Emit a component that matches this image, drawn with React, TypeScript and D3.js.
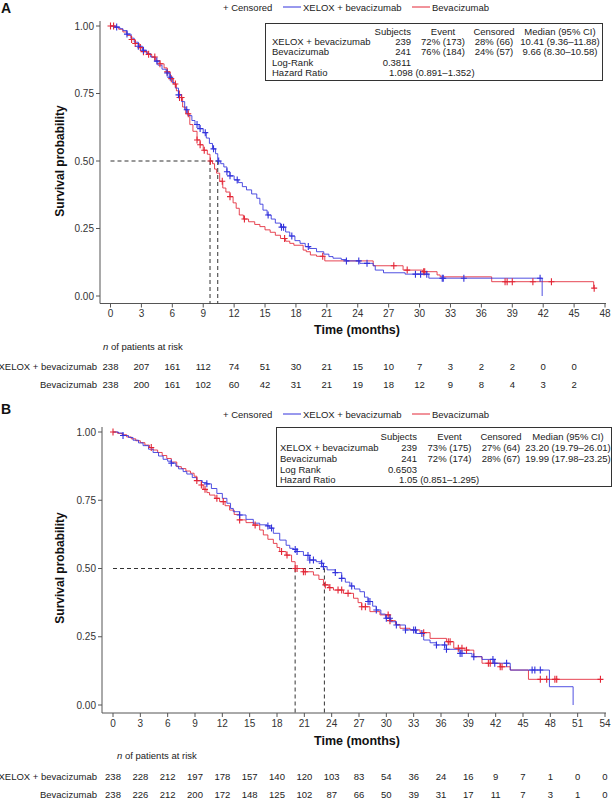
import React from "react";
import * as d3 from "d3";

const FONT = "'Liberation Sans', Arial, Helvetica, sans-serif";
const BLUE = "#3232dc";
const RED = "#e32636";
const AXIS = "#555555";
const TXT = "#222222";

// ---------------- Panel A data ----------------
const ticksA = [0, 3, 6, 9, 12, 15, 18, 21, 24, 27, 30, 33, 36, 39, 42, 45, 48];
const riskTimesA = [0, 3, 6, 9, 12, 15, 18, 21, 24, 27, 30, 33, 36, 39, 42, 45];
const riskA_XELOX = [238, 207, 161, 112, 74, 51, 30, 21, 15, 10, 7, 3, 2, 2, 0, 0];
const riskA_Bev = [238, 200, 161, 102, 60, 42, 31, 21, 19, 18, 12, 9, 8, 4, 3, 2];
const mediansA = [10.41, 9.66];
const tableA_rows = [
  ["XELOX + bevacizumab", "239", "72% (173)", "28% (66)", "10.41 (9.36\u201311.88)"],
  ["Bevacizumab", "241", "76% (184)", "24% (57)", "9.66 (8.30\u201310.58)"],
];
const tableA_stats = [["Log-Rank", "0.3811"], ["Hazard Ratio", "1.098 (0.891\u20131.352)"]];

const curveA_XELOX: [number, number][] = [
  [0, 1], [0.5, 0.996], [0.9, 0.99], [1.2, 0.983], [1.6, 0.97], [2.0, 0.955], [2.3, 0.94],
  [2.7, 0.925], [3.1, 0.91], [3.5, 0.898], [3.9, 0.885], [4.3, 0.87], [4.6, 0.855], [5.0, 0.84],
  [5.4, 0.826], [5.7, 0.81], [6.0, 0.79], [6.3, 0.77], [6.6, 0.745], [6.9, 0.72], [7.2, 0.69],
  [7.5, 0.668], [7.9, 0.65], [8.2, 0.635], [8.6, 0.62], [9.0, 0.605], [9.3, 0.585], [9.6, 0.565],
  [9.9, 0.545], [10.2, 0.527], [10.41, 0.5], [10.7, 0.49], [11.0, 0.478], [11.3, 0.46],
  [11.6, 0.445], [12.0, 0.43], [12.4, 0.42], [12.8, 0.405], [13.2, 0.393], [13.7, 0.378],
  [14.2, 0.362], [14.5, 0.34], [14.8, 0.318], [15.2, 0.3], [15.6, 0.285], [16.0, 0.27],
  [16.5, 0.255], [17.0, 0.237], [17.4, 0.222], [17.9, 0.205], [18.4, 0.195], [18.9, 0.183],
  [19.3, 0.176], [20.0, 0.164], [20.7, 0.155], [21.2, 0.146], [21.6, 0.14], [22.4, 0.135],
  [22.9, 0.13], [24.2, 0.121], [25.5, 0.112], [25.7, 0.096], [26.5, 0.086], [28.6, 0.081],
  [30.9, 0.066], [41.9, 0],
];
const curveA_Bev: [number, number][] = [
  [0, 1], [0.4, 0.995], [0.8, 0.988], [1.2, 0.978], [1.6, 0.965], [2.0, 0.95], [2.4, 0.935],
  [2.8, 0.92], [3.2, 0.905], [3.6, 0.895], [4.0, 0.885], [4.4, 0.872], [4.8, 0.86], [5.2, 0.845],
  [5.5, 0.83], [5.8, 0.805], [6.1, 0.785], [6.4, 0.76], [6.7, 0.735], [7.0, 0.7], [7.3, 0.675],
  [7.7, 0.635], [8.0, 0.61], [8.4, 0.578], [8.7, 0.56], [9.0, 0.54], [9.4, 0.525], [9.66, 0.5],
  [9.9, 0.49], [10.1, 0.47], [10.3, 0.455], [10.6, 0.425], [10.9, 0.4], [11.2, 0.385],
  [11.6, 0.368], [11.9, 0.345], [12.2, 0.325], [12.5, 0.3], [12.9, 0.285], [13.4, 0.275],
  [14.0, 0.265], [14.5, 0.257], [15.0, 0.245], [15.5, 0.236], [16.0, 0.225], [16.5, 0.213],
  [17.0, 0.203], [17.4, 0.195], [17.8, 0.188], [18.7, 0.17], [19.0, 0.164], [19.4, 0.152],
  [20.0, 0.147], [20.8, 0.13], [25.5, 0.112], [28.4, 0.096], [30.3, 0.09], [31.7, 0.078],
  [32.0, 0.071], [37.0, 0.053], [46.9, 0.029], [47.0, 0.029],
];
const censorA_XELOX = [
  0.6, 1.6, 2.7, 3.2, 4.5, 5.5, 5.8, 6.6, 7.4, 8.4, 8.7, 9.2, 10.0, 10.5, 11.3, 11.6, 12.3,
  15.3, 16.6, 16.8, 17.6, 19.2, 22.9, 24.1, 24.9, 29.6, 30.1, 30.7, 32.2, 32.3, 34.3, 41.7,
];
const censorA_Bev = [
  0.0, 0.3, 2.05, 2.4, 2.9, 3.2, 3.7, 4.3, 4.8, 5.5, 5.9, 6.3, 6.7, 6.9, 7.55, 8.4, 8.7, 9.1,
  9.7, 10.85, 11.6, 13.0, 16.9, 20.6, 27.5, 28.8, 30.4, 30.5, 38.3, 38.5, 39.0, 41.0, 42.8, 46.95,
];

// ---------------- Panel B data ----------------
const ticksB = [0, 3, 6, 9, 12, 15, 18, 21, 24, 27, 30, 33, 36, 39, 42, 45, 48, 51, 54];
const riskTimesB = [0, 3, 6, 9, 12, 15, 18, 21, 24, 27, 30, 33, 36, 39, 42, 45, 48, 51, 54];
const riskB_XELOX = [238, 228, 212, 197, 178, 157, 140, 120, 103, 83, 54, 36, 24, 16, 9, 7, 1, 0, 0];
const riskB_Bev = [238, 226, 212, 200, 172, 148, 125, 102, 87, 66, 50, 39, 31, 17, 11, 7, 3, 1, 0];
const mediansB = [23.2, 19.99];
const tableB_rows = [
  ["XELOX + bevacizumab", "239", "73% (175)", "27% (64)", "23.20 (19.79\u201326.01)"],
  ["Bevacizumab", "241", "72% (174)", "28% (67)", "19.99 (17.98\u201323.25)"],
];
const tableB_stats = [["Log Rank", "0.6503"], ["Hazard Ratio", "1.05 (0.851\u20131.295)"]];

const curveB_XELOX: [number, number][] = [
  [0, 1], [0.6, 0.996], [1.1, 0.987], [1.7, 0.98], [2.2, 0.97], [2.8, 0.96], [3.3, 0.95],
  [3.9, 0.937], [4.4, 0.925], [5.0, 0.912], [5.5, 0.9], [6.0, 0.893], [6.4, 0.886], [6.9, 0.875],
  [7.2, 0.865], [7.7, 0.855], [8.1, 0.846], [8.7, 0.833], [9.2, 0.822], [9.8, 0.815], [10.3, 0.81],
  [10.8, 0.793], [11.4, 0.775], [12.0, 0.757], [12.5, 0.739], [12.9, 0.72], [13.2, 0.708],
  [13.9, 0.696], [14.6, 0.68], [15.4, 0.666], [16.1, 0.66], [16.9, 0.656], [17.2, 0.648],
  [17.6, 0.629], [18.3, 0.604], [19.0, 0.585], [19.4, 0.574], [19.8, 0.57], [20.2, 0.562],
  [20.9, 0.548], [21.6, 0.531], [22.3, 0.525], [22.9, 0.519], [23.1, 0.507], [23.5, 0.495],
  [24.4, 0.485], [25.1, 0.464], [25.5, 0.45], [26.0, 0.436], [26.5, 0.425], [27.1, 0.415],
  [27.6, 0.395], [28.0, 0.379], [28.5, 0.362], [28.9, 0.348], [29.4, 0.333], [29.9, 0.318],
  [30.5, 0.305], [31.1, 0.293], [32.1, 0.275], [33.3, 0.262], [34.1, 0.238], [34.8, 0.228],
  [35.5, 0.22], [36.6, 0.204], [38.1, 0.189], [39.4, 0.177], [40.5, 0.167], [41.8, 0.153],
  [43.6, 0.128], [47.9, 0.067], [50.5, 0],
];
const curveB_Bev: [number, number][] = [
  [0, 1], [0.5, 0.995], [1.0, 0.99], [1.5, 0.982], [2.0, 0.975], [2.5, 0.968], [3.0, 0.961],
  [3.5, 0.952], [4.0, 0.943], [4.4, 0.934], [4.9, 0.925], [5.4, 0.914], [5.9, 0.903], [6.4, 0.89],
  [7.0, 0.873], [7.5, 0.866], [8.0, 0.857], [8.5, 0.849], [8.9, 0.838], [9.2, 0.822], [9.7, 0.806],
  [9.9, 0.79], [10.3, 0.778], [10.6, 0.769], [11.2, 0.757], [11.7, 0.745], [12.3, 0.73],
  [12.8, 0.714], [13.3, 0.698], [13.9, 0.678], [14.6, 0.668], [15.4, 0.659], [16.1, 0.641],
  [16.5, 0.623], [17.0, 0.607], [17.6, 0.592], [18.0, 0.577], [18.3, 0.562], [19.0, 0.549],
  [19.6, 0.525], [19.99, 0.5], [20.9, 0.488], [22.0, 0.476], [22.6, 0.46], [23.1, 0.44],
  [23.7, 0.43], [24.2, 0.421], [25.3, 0.409], [26.4, 0.391], [26.9, 0.375], [27.3, 0.36],
  [28.2, 0.342], [29.3, 0.33], [30.4, 0.309], [31.0, 0.295], [31.5, 0.281], [32.6, 0.275],
  [33.7, 0.265], [34.8, 0.244], [36.6, 0.232], [37.4, 0.208], [38.8, 0.201], [39.6, 0.177],
  [40.5, 0.153], [42.5, 0.14], [43.6, 0.128], [45.6, 0.094], [53.5, 0.094],
];
const censorB_XELOX = [
  1.1, 6.4, 10.3, 13.9, 17.0, 17.4, 20.0, 20.2, 21.4, 21.6, 22.0, 22.9, 23.1, 24.4, 25.1, 26.2,
  28.0, 28.2, 28.9, 30.0, 30.4, 31.1, 32.1, 33.0, 33.2, 33.9, 35.5, 36.4, 36.6, 38.1, 38.3,
  39.6, 41.7, 41.9, 43.2, 46.0, 46.3, 46.9,
];
const censorB_Bev = [
  0.0, 4.2, 9.2, 9.7, 10.1, 11.4, 12.1, 13.9, 15.6, 18.5, 19.1, 20.0, 20.2, 20.9, 21.1, 23.3,
  23.8, 24.7, 25.1, 25.8, 27.3, 27.7, 30.2, 30.4, 34.1, 36.8, 37.0, 37.9, 38.3, 38.8, 41.2, 41.4,
  42.5, 42.7, 46.9, 47.6, 48.5, 48.7, 53.5,
];

type Curve = [number, number][];

function valueAt(curve: Curve, t: number): number {
  let v = curve[0][1];
  for (const [ct, cs] of curve) {
    if (ct <= t + 1e-9) v = cs;
    else break;
  }
  return v;
}

interface PanelCfg {
  letter: string;
  letterY: number;
  legendY: number;
  yAxisX: number;
  xAxisY: number;
  xMax: number;
  xRange: [number, number];
  yRange: [number, number];
  ticks: number[];
  tickLabelY: number;
  xTitleY: number;
  box: { x: number; y: number; w: number; h: number };
  rowYs: number[];
  cols: { label: number; subj: number; event: number; cens: number; med: number; hr: number };
  header: string[];
  rows: string[][];
  stats: string[][];
  yTitleCy: number;
  riskHeader: { x: number; y: number };
  riskYs: number[];
  riskTimes: number[];
  riskX: number[];
  riskB: number[];
  curveX: Curve;
  curveB: Curve;
  censX: number[];
  censB: number[];
  medians: number[];
}

function Panel({ c }: { c: PanelCfg }) {
  const x = d3.scaleLinear().domain([0, c.xMax]).range(c.xRange);
  const y = d3.scaleLinear().domain([0, 1]).range(c.yRange);
  const line = d3
    .line<[number, number]>()
    .x((d) => x(d[0]))
    .y((d) => y(d[1]))
    .curve(d3.curveStepAfter);
  const yTicks = [0, 0.25, 0.5, 0.75, 1];
  const fs = 9.5;
  const plus = (cx: number, cy: number, col: string, k: string) => (
    <path
      key={k}
      d={`M${cx - 3},${cy}H${cx + 3}M${cx},${cy - 3.5}V${cy + 3.5}`}
      stroke={col}
      strokeWidth={1.1}
      fill="none"
    />
  );
  const yHalf = y(0.5);
  return (
    <g fontFamily={FONT}>
      <text x={1} y={c.letterY} fontSize={14} fontWeight="bold" fill="#111">
        {c.letter}
      </text>
      {/* legend */}
      <g fontSize={fs} fill={TXT}>
        <text x={223} y={c.legendY}>+ Censored</text>
        <line x1={283} x2={301} y1={c.legendY - 3.5} y2={c.legendY - 3.5} stroke={BLUE} strokeWidth={1} />
        <text x={303} y={c.legendY}>XELOX + bevacizumab</text>
        <line x1={412} x2={430} y1={c.legendY - 3.5} y2={c.legendY - 3.5} stroke={RED} strokeWidth={1} />
        <text x={432} y={c.legendY}>Bevacizumab</text>
      </g>
      {/* stats box */}
      <rect x={c.box.x} y={c.box.y} width={c.box.w} height={c.box.h} fill="white" stroke="#333" strokeWidth={1} />
      <g fontSize={fs} fill={TXT}>
        <text x={c.cols.subj} y={c.rowYs[0]} textAnchor="end">{c.header[0]}</text>
        <text x={c.cols.event} y={c.rowYs[0]} textAnchor="middle">{c.header[1]}</text>
        <text x={c.cols.cens} y={c.rowYs[0]} textAnchor="middle">{c.header[2]}</text>
        <text x={c.cols.med} y={c.rowYs[0]} textAnchor="middle">{c.header[3]}</text>
        {c.rows.map((r, i) => (
          <g key={i}>
            <text x={c.cols.label} y={c.rowYs[i + 1]}>{r[0]}</text>
            <text x={c.cols.subj} y={c.rowYs[i + 1]} textAnchor="end">{r[1]}</text>
            <text x={c.cols.event} y={c.rowYs[i + 1]} textAnchor="middle">{r[2]}</text>
            <text x={c.cols.cens} y={c.rowYs[i + 1]} textAnchor="middle">{r[3]}</text>
            <text x={c.cols.med} y={c.rowYs[i + 1]} textAnchor="middle">{r[4]}</text>
          </g>
        ))}
        <text x={c.cols.label} y={c.rowYs[3]}>{c.stats[0][0]}</text>
        <text x={c.cols.subj} y={c.rowYs[3]} textAnchor="end">{c.stats[0][1]}</text>
        <text x={c.cols.label} y={c.rowYs[4]}>{c.stats[1][0]}</text>
        <text x={c.cols.hr} y={c.rowYs[4]}>{c.stats[1][1]}</text>
      </g>
      {/* axes */}
      <line x1={c.yAxisX} x2={c.yAxisX} y1={y(1) - 5} y2={c.xAxisY} stroke={AXIS} strokeWidth={1} />
      <line x1={c.yAxisX} x2={x(c.xMax) + 1} y1={c.xAxisY} y2={c.xAxisY} stroke={AXIS} strokeWidth={1} />
      {yTicks.map((v) => (
        <g key={v}>
          <line x1={c.yAxisX - 4} x2={c.yAxisX} y1={y(v)} y2={y(v)} stroke={AXIS} />
          <text x={c.yAxisX - 6} y={y(v) + 3.5} fontSize={10} textAnchor="end" fill="#333">
            {d3.format(".2f")(v)}
          </text>
        </g>
      ))}
      {c.ticks.map((t) => (
        <g key={t}>
          <line x1={x(t)} x2={x(t)} y1={c.xAxisY} y2={c.xAxisY + 4} stroke={AXIS} />
          <text x={x(t)} y={c.tickLabelY} fontSize={10} textAnchor="middle" fill="#333">
            {t}
          </text>
        </g>
      ))}
      <text
        transform={`translate(64,${c.yTitleCy}) rotate(-90)`}
        fontSize={12}
        fontWeight="bold"
        textAnchor="middle"
        fill="#111"
      >
        Survival probability
      </text>
      <text x={357} y={c.xTitleY} fontSize={12.5} fontWeight="bold" textAnchor="middle" fill="#111">
        Time (months)
      </text>
      {/* median reference lines */}
      <g stroke="#333" strokeWidth={1} strokeDasharray="4,3" fill="none">
        <line x1={x(0)} x2={x(d3.max(c.medians) as number)} y1={yHalf} y2={yHalf} />
        {c.medians.map((m, i) => (
          <line key={i} x1={x(m)} x2={x(m)} y1={yHalf} y2={c.xAxisY} />
        ))}
      </g>
      {/* curves */}
      <path d={line(c.curveB) || ""} fill="none" stroke={RED} strokeWidth={1} strokeOpacity={0.85} />
      <path d={line(c.curveX) || ""} fill="none" stroke={BLUE} strokeWidth={1} strokeOpacity={0.85} />
      {c.censB.map((t, i) => plus(x(t), y(valueAt(c.curveB, t)), RED, "r" + i))}
      {c.censX.map((t, i) => plus(x(t), y(valueAt(c.curveX, t)), BLUE, "b" + i))}
      {/* risk table */}
      <text x={c.riskHeader.x} y={c.riskHeader.y} fontSize={fs} fill={TXT}>
        <tspan fontStyle="italic">n</tspan> of patients at risk
      </text>
      <text x={97} y={c.riskYs[0]} fontSize={fs} textAnchor="end" fill={TXT}>
        XELOX + bevacizumab
      </text>
      <text x={97} y={c.riskYs[1]} fontSize={fs} textAnchor="end" fill={TXT}>
        Bevacizumab
      </text>
      {c.riskTimes.map((t, i) => (
        <g key={t} fontSize={fs} fill={TXT} textAnchor="middle">
          <text x={x(t)} y={c.riskYs[0]}>{c.riskX[i]}</text>
          <text x={x(t)} y={c.riskYs[1]}>{c.riskB[i]}</text>
        </g>
      ))}
    </g>
  );
}

const header = ["Subjects", "Event", "Censored", "Median (95% CI)"];

const cfgA: PanelCfg = {
  letter: "A",
  letterY: 13,
  legendY: 10.5,
  yAxisX: 100,
  xAxisY: 303.5,
  xMax: 48,
  xRange: [110.5, 605],
  yRange: [296, 26],
  ticks: ticksA,
  tickLabelY: 316.5,
  xTitleY: 334,
  box: { x: 265.5, y: 23.5, w: 337, h: 57 },
  rowYs: [34.5, 44.5, 55, 65.5, 75.5],
  cols: { label: 272, subj: 411, event: 443, cens: 494, med: 560, hr: 389 },
  header,
  rows: tableA_rows,
  stats: tableA_stats,
  yTitleCy: 161,
  riskHeader: { x: 103, y: 350 },
  riskYs: [369.5, 387.5],
  riskTimes: riskTimesA,
  riskX: riskA_XELOX,
  riskB: riskA_Bev,
  curveX: curveA_XELOX,
  curveB: curveA_Bev,
  censX: censorA_XELOX,
  censB: censorA_Bev,
  medians: mediansA,
};

const cfgB: PanelCfg = {
  letter: "B",
  letterY: 414,
  legendY: 417.5,
  yAxisX: 102,
  xAxisY: 713,
  xMax: 54,
  xRange: [113, 605],
  yRange: [705, 432],
  ticks: ticksB,
  tickLabelY: 726.5,
  xTitleY: 745,
  box: { x: 276.5, y: 427.5, w: 335, h: 59 },
  rowYs: [439.5, 451, 461.5, 472.5, 482.5],
  cols: { label: 280, subj: 417, event: 449.5, cens: 501, med: 568, hr: 399 },
  header,
  rows: tableB_rows,
  stats: tableB_stats,
  yTitleCy: 568,
  riskHeader: { x: 117, y: 759 },
  riskYs: [779.5, 797.5],
  riskTimes: riskTimesB,
  riskX: riskB_XELOX,
  riskB: riskB_Bev,
  curveX: curveB_XELOX,
  curveB: curveB_Bev,
  censX: censorB_XELOX,
  censB: censorB_Bev,
  medians: mediansB,
};

export default function App() {
  return (
    <svg
      width={613}
      height={798}
      viewBox="0 0 613 798"
      style={{ position: "absolute", left: 0, top: 0, background: "white" }}
    >
      <rect width={613} height={798} fill="white" />
      <Panel c={cfgA} />
      <Panel c={cfgB} />
    </svg>
  );
}
